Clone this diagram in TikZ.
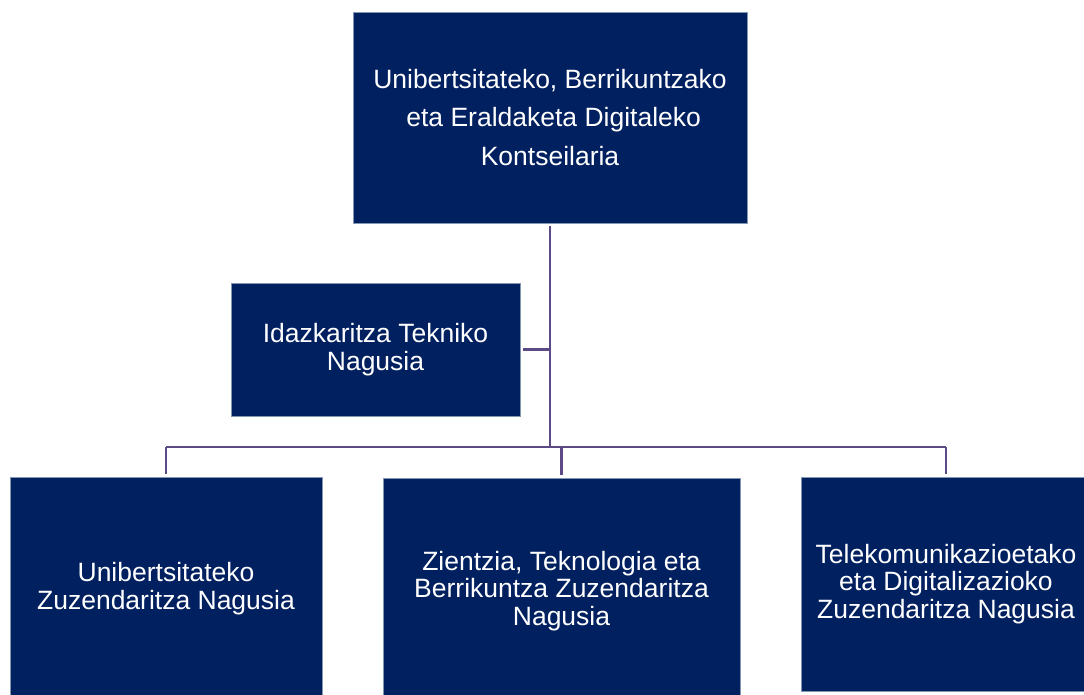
\documentclass[tikz,border=0pt]{standalone}
\usepackage{fontspec}
\setmainfont{Liberation Sans}
\usetikzlibrary{positioning}

\definecolor{boxnavy}{RGB}{0,32,96}
\definecolor{boxedge}{RGB}{132,151,176}
\definecolor{linkpurple}{RGB}{91,74,132}

\begin{document}
\begin{tikzpicture}[x=1pt,y=-1pt,
    unit/.style={draw=boxedge,line width=0.8pt,fill=boxnavy,text=white,
      align=center,inner sep=0pt,outer sep=3pt,
      font=\fontsize{26.5}{27.5}\selectfont},
    link/.style={draw=linkpurple,line width=2.9pt}]
  \useasboundingbox (0,0) rectangle (1084,695);

  \node[unit,minimum width=394pt,minimum height=211pt,
        font=\fontsize{26.5}{38.5}\selectfont] (top) at (550,117.5)
    {Unibertsitateko, Berrikuntzako\\ \ eta Eraldaketa Digitaleko\\Kontseilaria};
  \node[unit,minimum width=289pt,minimum height=133pt] (idz) at (375.5,349.5)
    {Idazkaritza Tekniko\\Nagusia};

  \node[unit,minimum width=312pt,minimum height=223pt] (b1) at (166,588.5)
    {Unibertsitateko\\Zuzendaritza Nagusia};
  \node[unit,minimum width=357pt,minimum height=226pt] (b2) at (561.5,591)
    {Zientzia, Teknologia eta\\Berrikuntza Zuzendaritza\\Nagusia};
  \node[unit,minimum width=290pt,minimum height=214pt] (b3) at (946,584)
    {Telekomunikazioetako\\eta Digitalizazioko\\Zuzendaritza Nagusia};

  \coordinate (bus) at (550,447);

  \draw[link] (top.south) -- (top.south |- bus);
  \draw[link] (idz.east) -- (idz.east -| top.south);
  \draw[link] (b1.north |- bus) -- (b3.north |- bus);
  \foreach \n in {b1,b2,b3}
    \draw[link] (\n.north) -- (\n.north |- bus);
\end{tikzpicture}
\end{document}
